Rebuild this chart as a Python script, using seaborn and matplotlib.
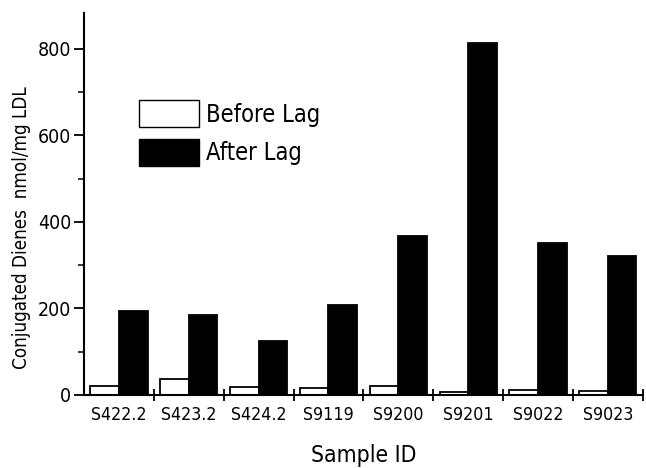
import matplotlib
matplotlib.use("Agg")
import matplotlib.pyplot as plt
from matplotlib import font_manager
import seaborn as sns
import pandas as pd
from matplotlib.ticker import FixedLocator

samples = ["S422.2", "S423.2", "S424.2", "S9119", "S9200", "S9201", "S9022", "S9023"]
before_lag = [20, 38, 18, 17, 21, 7, 11, 9]
after_lag = [193, 184, 124, 207, 368, 812, 350, 320]
series_names = ["Before Lag", "After Lag"]

df = pd.DataFrame({
    "Sample ID": samples * 2,
    "value": before_lag + after_lag,
    "series": [series_names[0]] * len(samples) + [series_names[1]] * len(samples),
})

sns.set_theme(style="white")

# narrow sans-serif face for all text
available = {f.name for f in font_manager.fontManager.ttflist}
if "Liberation Sans Narrow" in available:
    plt.rcParams["font.family"] = ["Liberation Sans Narrow", "DejaVu Sans"]
else:
    plt.rcParams["font.family"] = ["DejaVu Sans"]
    plt.rcParams["font.stretch"] = "condensed"
plt.rcParams.update({
    "text.color": "black",
    "axes.labelcolor": "black",
    "xtick.color": "black",
    "ytick.color": "black",
})

fig = plt.figure(figsize=(6.46, 4.68), dpi=100)
ax = fig.add_axes([0.1300, 0.156, 0.8650, 0.816])

sns.barplot(data=df, x="Sample ID", y="value", hue="series",
            palette={"Before Lag": "white", "After Lag": "black"},
            edgecolor="black", linewidth=1.3, width=0.82, gap=0,
            saturation=1, ax=ax)

ax.set_xlim(-0.5, len(samples) - 0.5)
ax.set_ylim(0, 882)

for s in ["top", "right"]:
    ax.spines[s].set_visible(False)
for s in ["left", "bottom"]:
    ax.spines[s].set_linewidth(1.5)
    ax.spines[s].set_color("black")

# y ticks
ax.yaxis.set_major_locator(FixedLocator([0, 200, 400, 600, 800]))
ax.yaxis.set_minor_locator(FixedLocator([100, 300, 500, 700]))
ax.tick_params(axis="y", which="major", direction="out", length=7, width=1.3,
               labelsize=14, pad=2, left=True)
ax.tick_params(axis="y", which="minor", direction="out", length=4, width=1.1, left=True)

# x ticks at group boundaries
ax.xaxis.set_minor_locator(FixedLocator([i + 0.5 for i in range(len(samples))]))
ax.tick_params(axis="x", which="major", length=0, labelsize=12.8, pad=8)
ax.tick_params(axis="x", which="minor", direction="inout", length=8, width=1.3, bottom=True)

ax.set_xlabel("Sample ID", fontsize=16.5)
ax.xaxis.set_label_coords(0.5, -0.128)
ax.set_ylabel("Conjugated Dienes  nmol/mg LDL", fontsize=13.5)
ax.yaxis.set_label_coords(-0.095, 0.437)

leg = ax.legend(loc="upper left", bbox_to_anchor=(0.098, 0.772), frameon=False,
                fontsize=17, handlelength=2.54, handleheight=1.38,
                handletextpad=0.3, labelspacing=0.5, borderaxespad=0,
                borderpad=0)
for h in leg.legend_handles:
    h.set_edgecolor("black")
    h.set_linewidth(1.0)

fig.savefig("out.png", dpi=100)
